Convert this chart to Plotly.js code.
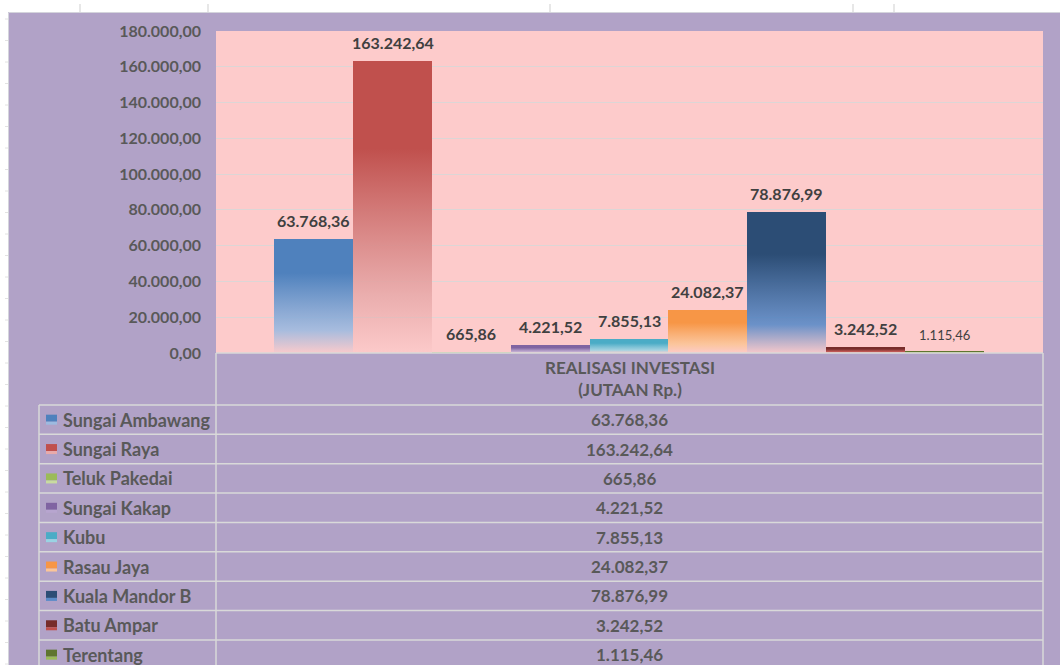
<!DOCTYPE html>
<html><head><meta charset="utf-8">
<script src="https://cdn.plot.ly/plotly-3.0.1.min.js"></script>
<style>html,body{margin:0;padding:0;background:#fff;}#chart{width:1060px;height:665px;}</style>
</head><body><div id="chart"></div>
<script>
// ---- data ----
const categoryLabel = 'REALISASI INVESTASI<br>(JUTAAN Rp.)';
const kecamatan = ['Sungai Ambawang','Sungai Raya','Teluk Pakedai','Sungai Kakap','Kubu','Rasau Jaya','Kuala Mandor B','Batu Ampar','Terentang'];
const investasi = [63768.36,163242.64,665.86,4221.52,7855.13,24082.37,78876.99,3242.52,1115.46];
const yTickValues = [0,20000,40000,60000,80000,100000,120000,140000,160000,180000];

// ---- styles ----
const barColors = ['#4F81BD','#C0504D','#9BBB59','#8064A2','#4BACC6','#F79646','#2C4D75','#772C2A','#5F7530'];
const barLight  = ['#9DBAE0','#E8AAAA','#C8DBA0','#B7A5CF','#9AD3E3','#FBC598','#5B8BC8','#C0504D','#9BBB59'];
const W = 1060, H = 665, L = 216, R = 1043, T = 31, B = 353;
const px = x => (x - L) / (R - L);
const py = y => (B - y) / (B - T);

function fmt(v){
  const s = v.toFixed(2).split('.');
  return s[0].replace(/\B(?=(\d{3})+(?!\d))/g,'.') + ',' + s[1];
}

const lineCol = '#D9D9D9';
const shapes = [];
// white strips
shapes.push({type:'rect',xref:'paper',yref:'paper',x0:px(0),x1:px(W),y0:py(0),y1:py(12),fillcolor:'#FFFFFF',line:{width:0}});
shapes.push({type:'rect',xref:'paper',yref:'paper',x0:px(0),x1:px(8),y0:py(0),y1:py(H),fillcolor:'#FFFFFF',line:{width:0}});
// spreadsheet column ticks
[80,208,550,853,894].forEach(x=>shapes.push({type:'line',xref:'paper',yref:'paper',x0:px(x),x1:px(x),y0:py(4),y1:py(12),line:{color:'#CFCFCF',width:1}}));
for(let y=19;y<H;y+=21.5){shapes.push({type:'line',xref:'paper',yref:'paper',x0:px(5),x1:px(8),y0:py(y),y1:py(y),line:{color:'#E2E2E2',width:1}});}
// chart border
shapes.push({type:'rect',xref:'paper',yref:'paper',x0:px(8.5),x1:px(1062),y0:py(12.5),y1:py(668),line:{color:'#D4D4DC',width:1}});
// table lines
const rowTop = 405, rowH = 29.37;
shapes.push({type:'line',xref:'paper',yref:'paper',x0:px(L),x1:px(R),y0:py(B),y1:py(B),line:{color:lineCol,width:1.5}});
for(let i=0;i<=kecamatan.length;i++){
  const y = rowTop + i*rowH;
  shapes.push({type:'line',xref:'paper',yref:'paper',x0:px(39),x1:px(R),y0:py(y),y1:py(y),line:{color:lineCol,width:1.5}});
}
shapes.push({type:'line',xref:'paper',yref:'paper',x0:px(L),x1:px(L),y0:py(B),y1:py(H+5),line:{color:lineCol,width:1.5}});
shapes.push({type:'line',xref:'paper',yref:'paper',x0:px(R),x1:px(R),y0:py(B),y1:py(H+5),line:{color:lineCol,width:1.5}});
shapes.push({type:'line',xref:'paper',yref:'paper',x0:px(39),x1:px(39),y0:py(rowTop),y1:py(H+5),line:{color:lineCol,width:1.5}});

const annotations = [];
// data labels
kecamatan.forEach((k,i)=>{
  const small = i === kecamatan.length-1;
  annotations.push({xref:'x',yref:'y',x:k,y:investasi[i],text:fmt(investasi[i]),showarrow:false,
    yanchor:'bottom',yshift: small?6:7,
    font:{family:'Lato',size: small?13:16,color:'#404040',weight: small?400:700}});
});
// category label
annotations.push({xref:'paper',yref:'paper',x:px(629.5),y:py(378),text:categoryLabel,showarrow:false,
  xanchor:'center',yanchor:'middle',font:{family:'Lato',size:17,color:'#595959',weight:700}});
// table rows
kecamatan.forEach((k,i)=>{
  const cy = rowTop + rowH*(i+0.5);
  shapes.push({type:'rect',xref:'paper',yref:'paper',x0:px(46),x1:px(57),y0:py(cy-5),y1:py(cy+2),fillcolor:barColors[i],line:{width:0}});
  shapes.push({type:'rect',xref:'paper',yref:'paper',x0:px(46),x1:px(57),y0:py(cy+2),y1:py(cy+5),fillcolor:barLight[i],line:{width:0}});
  annotations.push({xref:'paper',yref:'paper',x:px(61),y:py(cy),text:k,showarrow:false,xanchor:'left',yanchor:'middle',
    font:{family:'Lato',size:18,color:'#595959',weight:700}});
  annotations.push({xref:'paper',yref:'paper',x:px(629.5),y:py(cy),text:fmt(investasi[i]),showarrow:false,xanchor:'center',yanchor:'middle',
    font:{family:'Lato',size:17,color:'#595959',weight:700}});
});

const trace = {
  type:'bar', x:kecamatan, y:investasi,
  marker:{color:barColors, line:{width:0}},
  hoverinfo:'skip', showlegend:false
};

const layout = {
  width:W, height:H,
  margin:{l:L, r:W-R, t:T, b:H-B, pad:0},
  paper_bgcolor:'#B1A2C7', plot_bgcolor:'#FDCBCB',
  separators:',.',
  bargap:0,
  showlegend:false,
  xaxis:{type:'category', range:[-1.242, 9.253], showticklabels:false, showgrid:false, zeroline:false, showline:false, ticks:'', fixedrange:true},
  yaxis:{range:[0,180000], tickvals:yTickValues, tickformat:',.2f', showgrid:true, gridcolor:'#DCD6D6', gridwidth:1,
    zeroline:false, showline:false, ticks:'', ticklabelstandoff:14,
    tickfont:{family:'Lato', size:16, color:'#595959', weight:700}, fixedrange:true},
  shapes:shapes, annotations:annotations
};

function applyGradients(gd){
  const ns='http://www.w3.org/2000/svg';
  const svg = gd.querySelector('svg.main-svg');
  let defs = svg.querySelector('defs');
  if(!defs){defs=document.createElementNS(ns,'defs');svg.insertBefore(defs,svg.firstChild);}
  const paths = gd.querySelectorAll('.barlayer .trace .point path');
  paths.forEach((p,i)=>{
    const id='barGrad'+i;
    if(!defs.querySelector('#'+id)){
      const g=document.createElementNS(ns,'linearGradient');
      g.setAttribute('id',id);g.setAttribute('x1','0');g.setAttribute('y1','0');g.setAttribute('x2','0');g.setAttribute('y2','1');
      const stops=[[0,barColors[i],1],[0.3,barColors[i],1],[0.8,barLight[i],0.9],[1,barLight[i],0.05]];
      stops.forEach(s=>{const st=document.createElementNS(ns,'stop');st.setAttribute('offset',s[0]);st.setAttribute('stop-color',s[1]);st.setAttribute('stop-opacity',s[2]);g.appendChild(st);});
      defs.appendChild(g);
    }
    p.style.setProperty('fill','url(#'+id+')');
    p.style.setProperty('fill-opacity','1');
  });
}

Plotly.newPlot('chart',[trace],layout,{displayModeBar:false,staticPlot:true}).then(gd=>{
  applyGradients(gd);
  gd.on && gd.on('plotly_afterplot',()=>applyGradients(gd));
});
</script>
</body></html>
